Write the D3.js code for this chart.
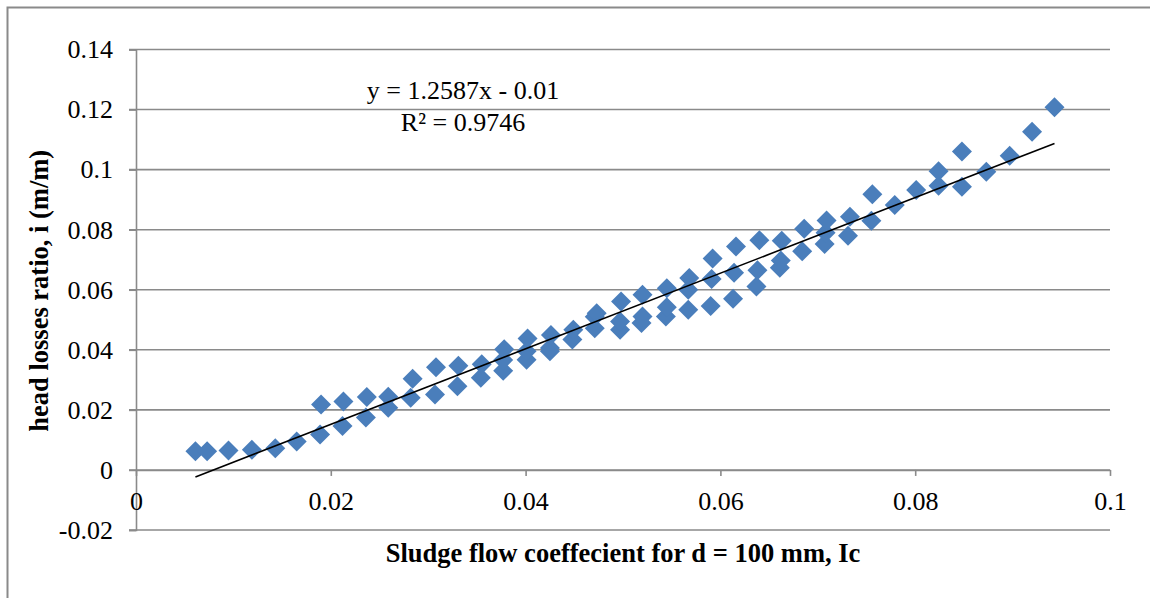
<!DOCTYPE html>
<html>
<head>
<meta charset="utf-8">
<script src="https://cdn.jsdelivr.net/npm/d3@7"></script>
<style>
  body { margin: 0; background: #fff; }
  svg text { font-family: "Liberation Serif", "Times New Roman", Times, Tinos, "DejaVu Serif", serif; }
</style>
</head>
<body>
<div id="chart"></div>
<script>
const width = 1150;
const height = 598;

// Ic values (x) and head losses ratio i (y)
const ic = [
  0.0061, 0.0073, 0.0095, 0.0119, 0.0143, 0.0165, 0.0189, 0.0190, 0.0212, 0.0213,
  0.0236, 0.0237, 0.0259, 0.0259, 0.0282, 0.0284, 0.0307, 0.0308, 0.0330, 0.0331,
  0.0354, 0.0355, 0.0377, 0.0377, 0.0378, 0.0401, 0.0401, 0.0402, 0.0425, 0.0425,
  0.0426, 0.0448, 0.0449, 0.0471, 0.0471, 0.0473, 0.0497, 0.0497, 0.0498, 0.0519,
  0.0520, 0.0520, 0.0544, 0.0545, 0.0545, 0.0567, 0.0567, 0.0568, 0.0590, 0.0591,
  0.0592, 0.0613, 0.0614, 0.0616, 0.0637, 0.0638, 0.0640, 0.0661, 0.0662, 0.0663,
  0.0684, 0.0686, 0.0707, 0.0708, 0.0709, 0.0731, 0.0733, 0.0755, 0.0756, 0.0779,
  0.0801, 0.0824, 0.0824, 0.0848, 0.0848, 0.0873, 0.0897, 0.0920, 0.0943
];
const headLoss = [
  0.0062, 0.0062, 0.0065, 0.0067, 0.0072, 0.0095, 0.0118, 0.0218, 0.0146, 0.0228,
  0.0175, 0.0243, 0.0207, 0.0244, 0.0240, 0.0304, 0.0251, 0.0342, 0.0279, 0.0347,
  0.0307, 0.0352, 0.0330, 0.0366, 0.0402, 0.0367, 0.0395, 0.0438, 0.0395, 0.0406,
  0.0449, 0.0434, 0.0467, 0.0472, 0.0510, 0.0522, 0.0467, 0.0494, 0.0561, 0.0489,
  0.0511, 0.0583, 0.0511, 0.0542, 0.0605, 0.0533, 0.0600, 0.0639, 0.0546, 0.0636,
  0.0704, 0.0570, 0.0657, 0.0744, 0.0611, 0.0665, 0.0765, 0.0673, 0.0697, 0.0763,
  0.0728, 0.0803, 0.0752, 0.0790, 0.0831, 0.0780, 0.0843, 0.0830, 0.0918, 0.0882,
  0.0932, 0.0946, 0.0995, 0.0943, 0.1060, 0.0993, 0.1046, 0.1126, 0.1208
];

const xTicks = [0, 0.02, 0.04, 0.06, 0.08, 0.1];
const yTicks = [-0.02, 0, 0.02, 0.04, 0.06, 0.08, 0.1, 0.12, 0.14];
const slope = 1.2587;
const intercept = -0.01;
const equationLabels = ["y = 1.2587x - 0.01", "R\u00b2 = 0.9746"];
const xTitle = "Sludge flow coeffecient for d = 100 mm, Ic";
const yTitle = "head losses ratio, i (m/m)";

const plot = { left: 136, right: 1110, top: 49.5, bottom: 530 };
const fmt = d => String(+d.toFixed(2));

const svg = d3.select("#chart").append("svg")
  .attr("width", width)
  .attr("height", height);

// chart area border (left and top visible)
svg.append("path")
  .attr("d", `M7.5,${height} V7.5 H${width}`)
  .attr("fill", "none")
  .attr("stroke", "#8a8a8a")
  .attr("stroke-width", 2);

const x = d3.scaleLinear().domain([0, 0.1]).range([plot.left, plot.right]);
const y = d3.scaleLinear().domain([-0.02, 0.14]).range([plot.bottom, plot.top]);

// horizontal gridlines
svg.append("g")
  .selectAll("line")
  .data(yTicks)
  .join("line")
  .attr("x1", plot.left - 7)
  .attr("x2", plot.right)
  .attr("y1", d => y(d))
  .attr("y2", d => y(d))
  .attr("stroke", "#8a8a8a")
  .attr("stroke-width", 1.6);

// y axis
const yAxis = svg.append("g")
  .attr("transform", `translate(${plot.left},0)`)
  .call(d3.axisLeft(y).tickValues(yTicks).tickSize(7).tickPadding(16).tickFormat(fmt));
yAxis.attr("font-family", null).attr("font-size", null);
yAxis.select(".domain").attr("stroke", "#8a8a8a").attr("stroke-width", 1.6);
yAxis.selectAll(".tick line").attr("stroke", "#8a8a8a").attr("stroke-width", 1.6);
yAxis.selectAll("text").attr("font-size", 26).attr("fill", "#000");

// x axis crossing at y = 0
const xAxis = svg.append("g")
  .attr("transform", `translate(0,${y(0)})`)
  .call(d3.axisBottom(x).tickValues(xTicks).tickSize(6).tickPadding(16)
    .tickSizeOuter(0).tickFormat(fmt));
xAxis.attr("font-family", null).attr("font-size", null);
xAxis.select(".domain").attr("stroke", "#8a8a8a").attr("stroke-width", 1.6);
xAxis.selectAll(".tick line").attr("stroke", "#8a8a8a").attr("stroke-width", 1.6);
xAxis.selectAll("text").attr("font-size", 26).attr("fill", "#000");

// data points
const points = ic.map((v, i) => [v, headLoss[i]]);
const r = 10;
svg.append("g")
  .selectAll("path")
  .data(points)
  .join("path")
  .attr("d", `M0,${-r}L${r},0L0,${r}L${-r},0Z`)
  .attr("transform", d => `translate(${x(d[0])},${y(d[1])})`)
  .attr("fill", "#4a7ebb");

// linear trendline
const xExt = d3.extent(ic);
svg.append("line")
  .attr("x1", x(xExt[0]))
  .attr("x2", x(xExt[1]))
  .attr("y1", y(slope * xExt[0] + intercept))
  .attr("y2", y(slope * xExt[1] + intercept))
  .attr("stroke", "#000")
  .attr("stroke-width", 1.6);

// equation label
svg.append("g")
  .selectAll("text")
  .data(equationLabels)
  .join("text")
  .attr("x", 463)
  .attr("y", (d, i) => 99 + i * 32)
  .attr("text-anchor", "middle")
  .attr("font-size", 26)
  .text(d => d);

// axis titles
svg.append("text")
  .attr("x", (plot.left + plot.right) / 2)
  .attr("y", 562)
  .attr("text-anchor", "middle")
  .attr("font-size", 26.5)
  .attr("font-weight", "bold")
  .text(xTitle);

svg.append("text")
  .attr("transform", `translate(48,${(plot.top + plot.bottom) / 2 + 1}) rotate(-90)`)
  .attr("text-anchor", "middle")
  .attr("font-size", 26.5)
  .attr("font-weight", "bold")
  .text(yTitle);
</script>
</body>
</html>
